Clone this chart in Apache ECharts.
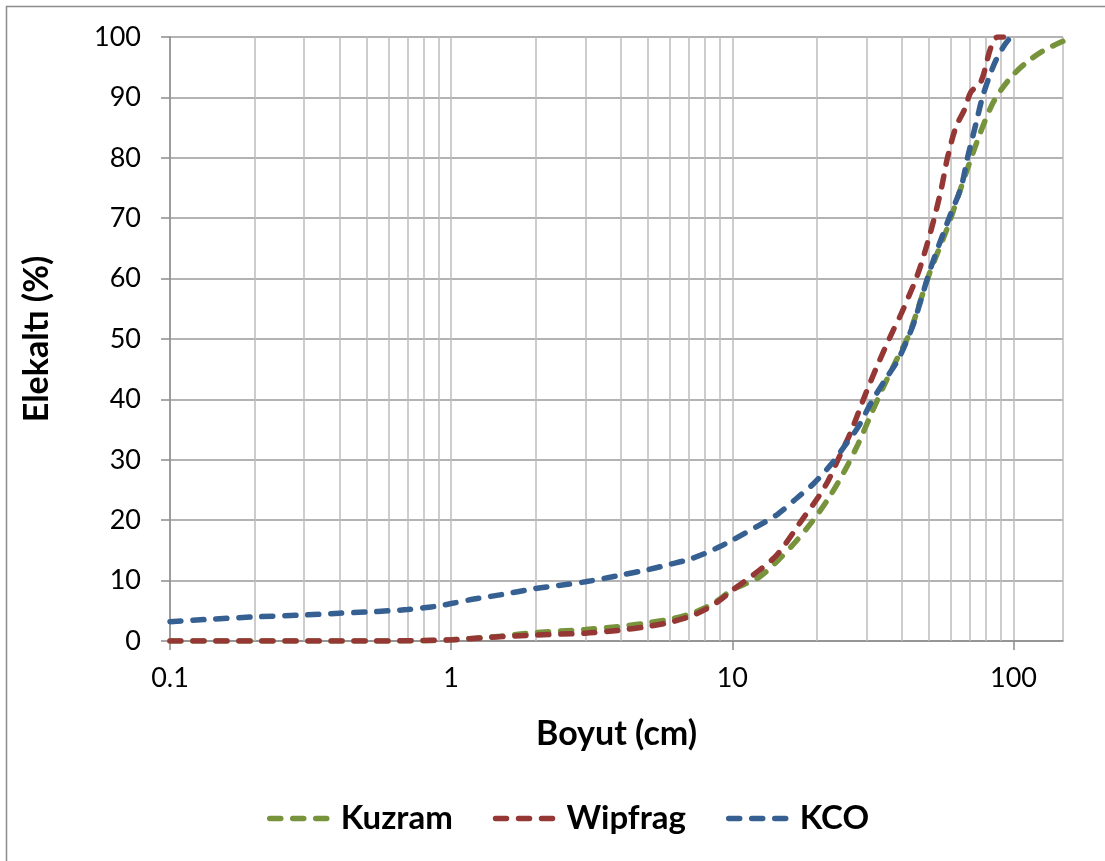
<!DOCTYPE html>
<html>
<head>
<meta charset="utf-8">
<script src="https://cdn.jsdelivr.net/npm/echarts@6/dist/echarts.min.js"></script>
<style>html,body{margin:0;padding:0;background:#fff}#c{width:1105px;height:861px}</style>
</head>
<body>
<div id="c"></div>
<script>
const seriesNames = ['Kuzram', 'Wipfrag', 'KCO'];
const kuzramX = [0.1, 0.2, 0.5, 0.8, 1, 1.5, 2, 3, 4, 5, 6, 7, 8, 9, 10, 12.4, 14.5, 16.7, 19.1, 21.9, 25.1, 28, 31.2, 34.8, 38.8, 42.1, 44.4, 50.2, 58.3, 65.1, 74.5, 83.1, 90.2, 100.5, 112, 128.5, 150];
const kuzramY = [0, 0, 0, 0.05, 0.2, 0.8, 1.4, 1.9, 2.4, 3.0, 3.6, 4.4, 5.5, 6.9, 8.5, 10.5, 13.3, 16.3, 19.6, 23.5, 28.2, 32.6, 37.6, 42.5, 47, 50.3, 53.2, 60.8, 68.5, 75.1, 82.9, 88.4, 91.2, 93.9, 95.9, 97.8, 99.3];
const wipfragX = [0.1, 0.5, 1, 1.36, 2, 3, 4, 5, 6, 7, 8, 9, 10, 12.4, 14.5, 17.6, 20.2, 21.9, 23.8, 26.5, 29.6, 33, 37.3, 39.8, 45.7, 50.9, 55.2, 58.3, 62.4, 66.8, 70.6, 76.6, 83.1, 87.8, 92];
const wipfragY = [0, 0, 0.2, 0.6, 1.0, 1.3, 1.8, 2.4, 3.1, 4.0, 5.2, 6.7, 8.4, 11.6, 14.4, 19.9, 23.8, 26.5, 30.1, 34.8, 40.6, 45.9, 51.4, 54.1, 60.8, 68, 74.6, 80.1, 85.1, 87.9, 90.9, 92.6, 98.3, 100, 100];
const kcoX = [0.1, 0.139, 0.2, 0.3, 0.4, 0.5, 0.6, 0.7, 0.8, 0.9, 1, 1.19, 1.52, 2, 2.41, 3, 4, 5, 6, 7, 8, 9, 10, 12.4, 14.5, 17.1, 19.6, 22.5, 25.1, 28, 31.2, 34.8, 38.8, 42.6, 44.4, 50.9, 59.2, 65.1, 68.7, 73.5, 77.6, 82, 86.5, 92.7, 97.8];
const kcoY = [3.2, 3.6, 4.0, 4.3, 4.6, 4.8, 5.0, 5.2, 5.5, 5.8, 6.2, 6.9, 7.7, 8.7, 9.2, 9.8, 10.9, 11.8, 12.7, 13.5, 14.5, 15.6, 16.7, 19.1, 21, 23.8, 26.2, 29.3, 32.3, 35.4, 39.5, 43.1, 46.5, 50.7, 52.9, 61.9, 70.2, 75.1, 80.1, 85.6, 90.1, 93.4, 96.1, 98.6, 100];
const xMajorTicks = [0.1, 1, 10, 100];
const xMinorGrid = [0.2, 0.3, 0.4, 0.5, 0.6, 0.7, 0.8, 0.9, 2, 3, 4, 5, 6, 7, 8, 9, 20, 30, 40, 50, 60, 70, 80, 90];
const colors = ['#77933C', '#953735', '#376092'];

const zip = (xs, ys) => xs.map((x, i) => [x, ys[i]]);
const FONT = 'Lato';
const dash = [11, 12];

function lineSeries(name, xs, ys, color) {
  return {
    name, type: 'line', data: zip(xs, ys), smooth: 0.3, showSymbol: false, symbol: 'none',
    z: 3, animation: false, clip: true,
    lineStyle: { color, width: 5.5, type: dash, cap: 'round' },
    itemStyle: { color }
  };
}

const chart = echarts.init(document.getElementById('c'), null, { renderer: 'canvas' });
chart.setOption({
  animation: false,
  backgroundColor: '#fff',
  graphic: [{
    type: 'rect', left: 4, top: 4, shape: { width: 1120, height: 900 },
    style: { fill: 'none', stroke: '#8c8c8c', lineWidth: 1.5 }, silent: true, z: -1
  }],
  grid: { left: 170, right: 42, top: 37, bottom: 220, containLabel: false },
  legend: {
    data: seriesNames, left: 262, top: 797, itemWidth: 60, itemHeight: 14, itemGap: 40,
    textStyle: { fontFamily: FONT, fontWeight: 'bold', fontSize: 33, color: '#000', padding: [0, 0, 0, 6] },
    itemStyle: { opacity: 0 },
    lineStyle: { width: 5.5, type: [11, 12], cap: 'round' }
  },
  xAxis: {
    type: 'log', logBase: 10, min: 0.1, max: 150,
    name: 'Boyut (cm)', nameLocation: 'middle', nameGap: 76,
    nameTextStyle: { fontFamily: FONT, fontWeight: 'bold', fontSize: 34, color: '#000' },
    axisLine: { show: true, lineStyle: { color: '#8c8c8c', width: 1.5 } },
    axisTick: { show: true, length: 9, inside: false, lineStyle: { color: '#8c8c8c', width: 1.5 } },
    axisLabel: {
      fontFamily: FONT, fontSize: 27, color: '#000', margin: 24, showMaxLabel: false,
      formatter: v => (xMajorTicks.some(t => Math.abs(t - v) / t < 1e-6) ? String(v) : '')
    },
    splitLine: { show: true, lineStyle: { color: '#bdbdbd', width: 1.5 } }
  },
  yAxis: {
    type: 'value', min: 0, max: 100, interval: 10,
    name: 'Elekaltı (%)', nameLocation: 'middle', nameGap: 116,
    nameTextStyle: { fontFamily: FONT, fontWeight: 'bold', fontSize: 34, color: '#000' },
    axisLine: { show: true, lineStyle: { color: '#8c8c8c', width: 1.5 } },
    axisTick: { show: true, length: 9, lineStyle: { color: '#8c8c8c', width: 1.5 } },
    axisLabel: { fontFamily: FONT, fontSize: 27, color: '#000', margin: 29 },
    splitLine: { show: true, lineStyle: { color: '#9a9a9a', width: 1.5 } }
  },
  series: [
    {
      type: 'line', data: [], z: 1, silent: true, animation: false,
      markLine: {
        z: 1, silent: true, symbol: 'none', animation: false, label: { show: false },
        lineStyle: { color: '#bdbdbd', width: 1.5, type: 'solid' },
        data: xMinorGrid.map(v => ({ xAxis: v }))
      }
    },
    lineSeries(seriesNames[0], kuzramX, kuzramY, colors[0]),
    lineSeries(seriesNames[1], wipfragX, wipfragY, colors[1]),
    lineSeries(seriesNames[2], kcoX, kcoY, colors[2])
  ]
});
</script>
</body>
</html>
